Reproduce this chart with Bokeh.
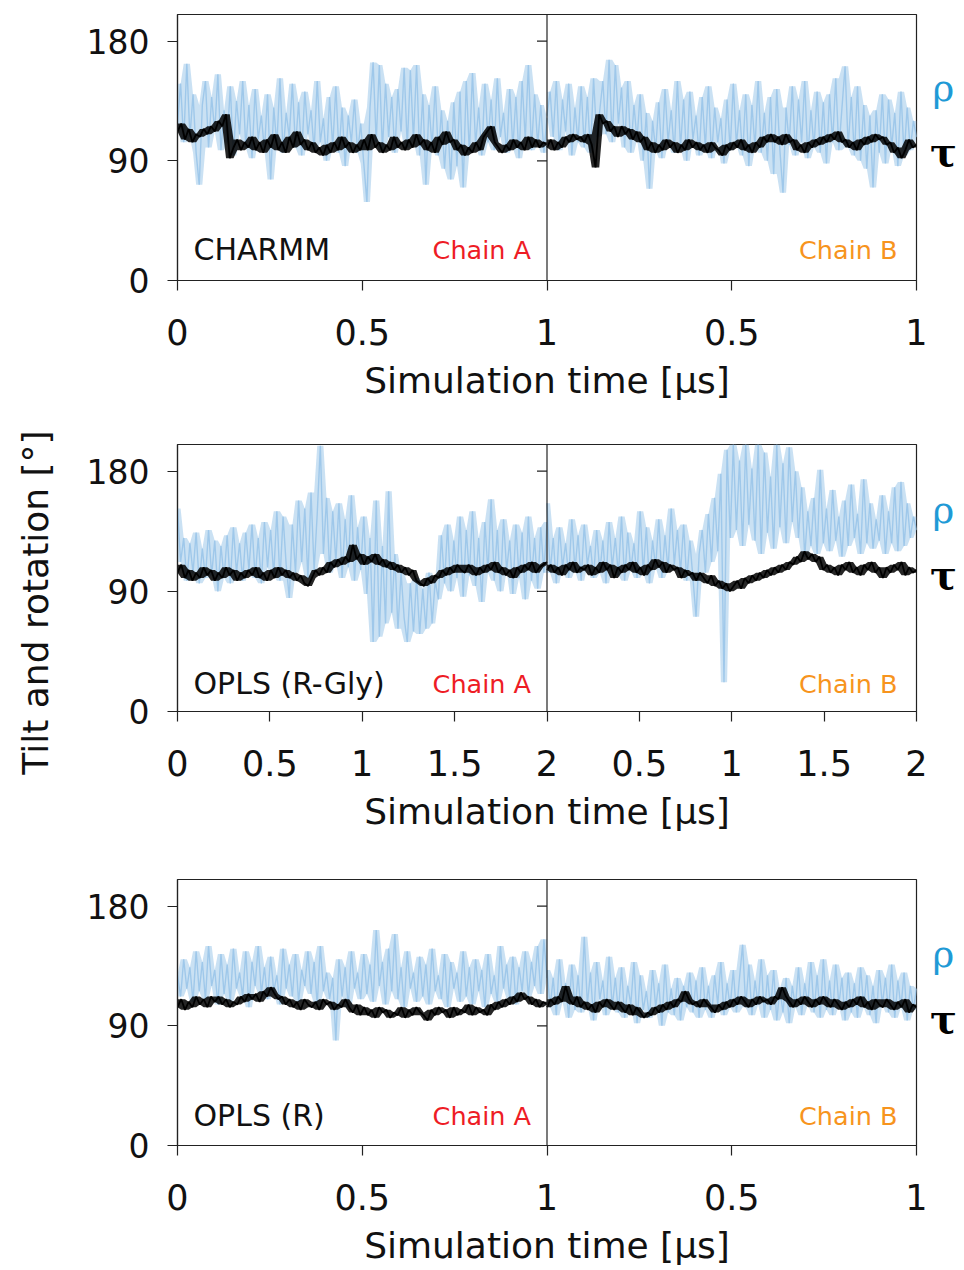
import numpy as np
from bokeh.plotting import figure
from bokeh.layouts import column, row
from bokeh.models import Range1d, FixedTicker, Span, Label
from bokeh.embed import file_html
from bokeh.resources import INLINE

# ---------------- data (degrees) ----------------
# Panel 1: CHARMM, 1 us per chain
charmm_rho_A = [118, 148, 104, 163, 108, 140, 96, 72, 132, 150,
                100, 138, 112, 155, 98, 128, 104, 146, 94, 135,
                110, 150, 100, 132, 92, 144, 106, 124, 98, 140,
                76, 130, 102, 152, 96, 126, 108, 148, 100, 134,
                94, 142, 110, 128, 98, 150, 104, 122, 90, 138,
                100, 146, 96, 130, 86, 124, 104, 136, 96, 118,
                88, 59, 130, 164, 104, 162, 98, 148, 108, 138,
                96, 144, 112, 160, 100, 158, 106, 162, 94, 140,
                72, 132, 100, 146, 94, 128, 84, 120, 76, 134,
                86, 142, 70, 150, 96, 156, 102, 130, 94, 148,
                104, 136, 98, 152, 108, 126, 96, 144, 100, 138,
                92, 150, 106, 162, 98, 140, 102, 132, 96, 122]
charmm_tau_A = [112, 118, 106, 114, 104, 110, 108, 114, 110, 116,
                112, 120, 116, 125, 92, 100, 106, 98, 104, 100,
                108, 98, 104, 96, 106, 100, 110, 98, 104, 96,
                108, 100, 112, 102, 106, 98, 104, 96, 100, 94,
                102, 96, 104, 98, 108, 100, 104, 96, 102, 98,
                106, 98, 110, 100, 104, 96, 102, 98, 108, 100,
                104, 98, 106, 100, 110, 102, 106, 98, 104, 96,
                108, 102, 112, 104, 106, 98, 102, 94, 100, 96,
                104, 98, 108, 112, 116, 104, 100, 96, 102, 98,
                106, 100, 104, 98, 108, 100, 106, 100, 104, 102]
charmm_rho_B = [124, 142, 108, 150, 98, 136, 112, 148, 94, 130,
                104, 146, 100, 138, 96, 152, 108, 128, 150, 110,
                166, 104, 162, 118, 145, 100, 150, 96, 132, 106,
                140, 90, 126, 69, 120, 98, 134, 92, 144, 104,
                128, 96, 150, 100, 136, 90, 142, 106, 124, 94,
                138, 100, 146, 92, 130, 104, 122, 88, 136, 98,
                148, 102, 128, 94, 140, 86, 132, 100, 150, 96,
                126, 90, 138, 80, 144, 98, 66, 130, 102, 146,
                94, 136, 104, 150, 92, 128, 100, 142, 96, 134,
                88, 140, 104, 152, 98, 130, 161, 100, 138, 94,
                146, 90, 132, 84, 124, 70, 128, 96, 140, 88,
                136, 100, 126, 86, 142, 94, 130, 98, 120, 108]
charmm_tau_B = [100, 106, 98, 104, 100, 108, 104, 110, 106, 108,
                104, 110, 102, 85, 125, 118, 120, 112, 116, 108,
                116, 110, 114, 106, 112, 104, 108, 98, 104, 96,
                102, 98, 106, 100, 104, 96, 102, 98, 106, 100,
                104, 98, 102, 96, 104, 100, 98, 94, 102, 98,
                104, 100, 106, 98, 102, 96, 104, 100, 108, 104,
                110, 104, 108, 102, 110, 104, 106, 98, 102, 96,
                104, 100, 106, 102, 108, 104, 110, 106, 112, 104,
                106, 100, 104, 98, 106, 102, 108, 104, 110, 106,
                108, 102, 104, 96, 100, 92, 98, 106, 100, 102]

# Panel 2: OPLS (R-Gly), 2 us per chain
rgly_rho_A = [152, 112, 130, 98, 126, 104, 134, 96, 122, 100,
              136, 102, 128, 90, 124, 100, 132, 96, 138, 104,
              126, 98, 134, 106, 140, 100, 130, 96, 142, 108,
              136, 102, 150, 98, 146, 110, 85, 140, 104, 158,
              112, 152, 100, 164, 106, 148, 199, 118, 160, 104,
              150, 112, 156, 100, 144, 108, 162, 98, 138, 106,
              146, 88, 130, 52, 158, 56, 124, 66, 165, 74,
              118, 62, 104, 70, 52, 96, 60, 100, 58, 92,
              62, 104, 66, 98, 84, 132, 96, 140, 90, 128,
              100, 146, 86, 136, 102, 150, 94, 130, 82, 142,
              104, 159, 98, 136, 90, 144, 106, 128, 88, 140,
              100, 134, 84, 146, 98, 130, 92, 138, 104, 142]
rgly_tau_A = [104, 110, 100, 106, 98, 104, 100, 108, 102, 106,
              98, 104, 100, 108, 102, 106, 98, 104, 100, 106,
              102, 108, 100, 104, 98, 106, 100, 108, 102, 106,
              100, 104, 98, 102, 96, 94, 100, 106, 102, 108,
              104, 112, 108, 114, 110, 116, 112, 125, 114, 118,
              110, 116, 112, 118, 110, 114, 108, 112, 106, 110,
              104, 108, 102, 106, 98, 96, 94, 100, 96, 102,
              100, 106, 102, 108, 104, 110, 106, 104, 110, 106,
              102, 108, 104, 110, 106, 112, 104, 108, 102, 106,
              100, 108, 104, 110, 106, 112, 104, 108, 110, 112]
rgly_rho_B = [156, 104, 130, 96, 138, 108, 126, 100, 144, 106,
              132, 98, 140, 110, 124, 100, 136, 104, 128, 96,
              142, 108, 130, 102, 146, 98, 134, 106, 126, 100,
              150, 104, 138, 96, 128, 108, 144, 100, 132, 106,
              152, 110, 136, 104, 140, 98, 128, 100, 71, 118,
              136, 104, 148, 112, 160, 120, 178, 22, 196, 130,
              200, 136, 188, 124, 200, 140, 182, 128, 200, 118,
              194, 134, 176, 122, 200, 138, 186, 126, 198, 142,
              180, 130, 168, 116, 150, 124, 160, 118, 181, 126,
              152, 120, 166, 128, 146, 116, 158, 124, 170, 130,
              148, 118, 174, 126, 156, 122, 144, 128, 162, 118,
              150, 126, 168, 120, 172, 124, 156, 130, 146, 136]
rgly_tau_B = [106, 110, 104, 108, 102, 110, 106, 112, 104, 108,
              106, 110, 102, 108, 104, 112, 106, 110, 100, 108,
              104, 110, 106, 112, 104, 108, 102, 110, 106, 114,
              108, 112, 104, 110, 106, 108, 100, 106, 102, 104,
              98, 104, 100, 96, 102, 94, 98, 92, 96, 90,
              94, 98, 92, 100, 96, 102, 98, 104, 100, 106,
              102, 108, 104, 110, 106, 112, 110, 116, 112, 120,
              114, 118, 112, 116, 106, 110, 104, 108, 102, 110,
              106, 112, 104, 108, 102, 110, 106, 112, 104, 108,
              100, 108, 104, 110, 106, 112, 102, 108, 104, 106]

# Panel 3: OPLS (R), 1 us per chain
r_rho_A = [128, 112, 140, 118, 134, 108, 146, 116, 138, 110,
           150, 120, 132, 106, 144, 114, 136, 108, 148, 118,
           130, 112, 146, 104, 138, 120, 150, 114, 134, 110,
           142, 116, 128, 106, 148, 118, 136, 112, 144, 108,
           132, 120, 146, 114, 138, 106, 150, 116, 130, 110,
           126, 79, 140, 112, 134, 104, 146, 118, 130, 110,
           144, 114, 136, 108, 162, 120, 138, 106, 148, 116,
           159, 110, 134, 104, 146, 118, 130, 108, 142, 112,
           136, 106, 148, 116, 128, 110, 144, 104, 138, 118,
           130, 108, 146, 112, 134, 106, 140, 116, 132, 104,
           144, 114, 128, 108, 150, 118, 136, 110, 142, 106,
           134, 116, 146, 112, 138, 120, 150, 114, 155, 126]
r_tau_A = [104, 110, 102, 108, 104, 112, 106, 110, 104, 112,
           108, 112, 106, 110, 104, 108, 106, 112, 108, 114,
           110, 114, 108, 116, 112, 119, 114, 110, 112, 106,
           110, 104, 108, 102, 110, 106, 104, 108, 102, 110,
           106, 108, 102, 106, 104, 110, 104, 100, 106, 98,
           104, 98, 102, 96, 104, 100, 102, 96, 100, 98,
           104, 96, 102, 98, 104, 100, 98, 94, 102, 98,
           104, 100, 102, 96, 104, 98, 102, 100, 106, 98,
           104, 100, 102, 98, 106, 102, 108, 104, 110, 106,
           112, 108, 115, 110, 112, 106, 110, 104, 108, 106]
r_rho_B = [132, 104, 126, 98, 140, 108, 122, 96, 136, 102,
           128, 100, 157, 106, 130, 94, 138, 110, 124, 98,
           142, 104, 126, 100, 134, 96, 120, 106, 138, 92,
           128, 102, 116, 96, 132, 104, 122, 90, 136, 100,
           118, 98, 126, 94, 120, 104, 130, 100, 124, 96,
           134, 102, 120, 96, 128, 106, 138, 98, 122, 104,
           132, 100, 126, 151, 104, 136, 98, 124, 106, 140,
           96, 128, 102, 132, 94, 118, 100, 126, 92, 120,
           104, 134, 98, 122, 106, 138, 100, 128, 96, 140,
           102, 124, 98, 136, 106, 126, 94, 130, 100, 122,
           96, 134, 104, 128, 98, 120, 92, 132, 106, 126,
           100, 136, 96, 124, 104, 130, 94, 120, 102, 118]
r_tau_B = [104, 110, 106, 112, 108, 120, 110, 106, 112, 104,
           108, 102, 106, 100, 108, 104, 110, 106, 102, 108,
           104, 100, 106, 98, 104, 100, 96, 100, 98, 104,
           100, 106, 102, 108, 104, 110, 108, 116, 110, 106,
           108, 104, 110, 106, 104, 100, 106, 102, 108, 104,
           110, 106, 112, 108, 104, 110, 106, 112, 108, 110,
           106, 112, 110, 119, 112, 108, 104, 110, 106, 112,
           108, 104, 110, 106, 112, 108, 104, 110, 106, 102,
           108, 104, 110, 106, 112, 104, 108, 102, 110, 106,
           104, 110, 106, 102, 108, 104, 110, 100, 106, 104]

y_ticks = [0, 90, 180]
y_max = 200
panel_names = ["CHARMM", "OPLS (R-Gly)", "OPLS (R)"]
chain_names = ["Chain A", "Chain B"]
chain_lengths = [1.0, 2.0, 1.0]          # microseconds per chain
x_tick_step = 0.5
y_label = "Tilt and rotation [°]"
x_label = "Simulation time [μs]"

# ---------------- styling ----------------
RHO_LINE = "#9fc8ea"
RHO_TEXT = "#1f9ad6"
TAU_LINE = "#000000"
CHAIN_COLORS = ["#ee1c25", "#f7941d"]
EDGE = "#222222"
FONT = "DejaVu Sans"
SERIF = "DejaVu Serif"

W, H = 964, 1270
TILT_W = 60                    # strip holding the shared y label
SIDE_W = 34                    # strip holding ρ / τ
LEFT = 177 - TILT_W
RIGHT = 14
BOX_W = 739
MAIN_W = LEFT + BOX_W + RIGHT
heights = [430, 435, 405]
tops = [14, 14, 14]
bottoms = [150, 154, 125]

panel_data = [
    (charmm_rho_A, charmm_tau_A, charmm_rho_B, charmm_tau_B),
    (rgly_rho_A, rgly_tau_A, rgly_rho_B, rgly_tau_B),
    (r_rho_A, r_tau_A, r_rho_B, r_tau_B),
]
label_y = [31, 28, 30]
rho_y = [192, 201, 191]        # from the (aligned) frame bottom
tau_y = [129, 137, 127]


def fmt(v):
    s = ("%.1f" % v)
    return s[:-2] if s.endswith(".0") else s


def envelope(vals):
    a = np.asarray(vals, dtype=float)
    pad = np.pad(a, 1, mode="edge")
    stack = np.vstack([pad[:-2], pad[1:-1], pad[2:]])
    return stack.min(axis=0), stack.max(axis=0)


def blank(width, height):
    f = figure(width=width, height=height, output_backend="svg", toolbar_location=None,
               x_range=Range1d(0, 1), y_range=Range1d(0, 1),
               x_axis_location=None, y_axis_location=None, title=None)
    f.min_border_left = f.min_border_right = f.min_border_top = f.min_border_bottom = 0
    f.outline_line_color = None
    f.grid.visible = False
    f.background_fill_color = "white"
    f.border_fill_color = "white"
    return f


rows = []
for k in range(3):
    L = chain_lengths[k]
    xmax_box = 2 * L
    rhoA, tauA, rhoB, tauB = panel_data[k]
    p = figure(width=MAIN_W, height=heights[k], output_backend="svg",
               toolbar_location=None, title=None,
               x_range=Range1d(0, xmax_box), y_range=Range1d(0, y_max))
    p.min_border_left = LEFT
    p.min_border_right = RIGHT
    p.min_border_top = tops[k]
    p.min_border_bottom = bottoms[k]
    p.xgrid.visible = False
    p.ygrid.visible = False
    p.outline_line_color = EDGE
    p.outline_line_width = 1.2
    p.background_fill_color = "white"
    p.border_fill_color = "white"

    # series: light blue rho, black tau (band of local spread + line)
    for (rho, off) in ((rhoA, 0.0), (rhoB, L)):
        xr = off + np.linspace(0, L, len(rho))
        rlo, rhi = envelope(rho)
        p.varea(x=xr, y1=rlo, y2=rhi, fill_color=RHO_LINE, fill_alpha=0.55)
        p.line(xr, rho, line_color=RHO_LINE, line_width=1.4)
    for (tau, off) in ((tauA, 0.0), (tauB, L)):
        xt = off + np.linspace(0, L, len(tau))
        tlo, thi = envelope(tau)
        p.varea(x=xt, y1=tlo, y2=thi, fill_color=TAU_LINE, fill_alpha=0.85)
        p.line(xt, tau, line_color=TAU_LINE, line_width=1.8)

    # divider between chains, with its small y ticks
    p.add_layout(Span(location=L, dimension="height", line_color=EDGE, line_width=1.2))
    tick_len = 10 * xmax_box / BOX_W
    p.segment(x0=[L - tick_len] * 2, x1=[L] * 2, y0=y_ticks[1:], y1=y_ticks[1:],
              line_color=EDGE, line_width=1.2)

    # axes
    xt_vals = list(np.arange(0, xmax_box + 1e-9, x_tick_step))
    overrides = {}
    for v in xt_vals:
        lab = v if v <= L else v - L
        overrides[float(v)] = fmt(lab)
    p.xaxis.ticker = FixedTicker(ticks=[float(v) for v in xt_vals])
    p.xaxis.major_label_overrides = overrides
    p.yaxis.ticker = FixedTicker(ticks=y_ticks)
    p.xaxis.minor_tick_line_color = None
    p.yaxis.minor_tick_line_color = None
    for ax in (p.xaxis, p.yaxis):
        ax.major_tick_in = 0
        ax.major_tick_out = 10
        ax.major_tick_line_color = EDGE
        ax.major_tick_line_width = 1.2
        ax.axis_line_color = EDGE
        ax.axis_line_width = 1.2
        ax.major_label_text_font = FONT
        ax.major_label_text_color = "#111111"
    p.xaxis.major_label_text_font_size = "35px"
    p.yaxis.major_label_text_font_size = "33px"
    p.xaxis.major_label_standoff = 28
    p.yaxis.major_label_standoff = 18
    p.xaxis.axis_label = x_label
    p.xaxis.axis_label_text_font = FONT
    p.xaxis.axis_label_text_font_size = "36px"
    p.xaxis.axis_label_text_font_style = "normal"
    p.xaxis.axis_label_text_color = "#111111"
    p.xaxis.axis_label_standoff = 12

    # in-panel texts
    p.add_layout(Label(x=16, y=label_y[k], x_units="screen", y_units="screen",
                       text=panel_names[k], text_font=FONT, text_font_size="30px",
                       text_color="#111111", text_baseline="middle"))
    half = BOX_W / 2
    p.add_layout(Label(x=half - 16, y=label_y[k], x_units="screen", y_units="screen",
                       text=chain_names[0], text_font=FONT, text_font_size="25.5px",
                       text_color=CHAIN_COLORS[0], text_baseline="middle", text_align="right"))
    p.add_layout(Label(x=BOX_W - 19, y=label_y[k], x_units="screen", y_units="screen",
                       text=chain_names[1], text_font=FONT, text_font_size="25.5px",
                       text_color=CHAIN_COLORS[1], text_baseline="middle", text_align="right"))

    # side strip with ρ and τ (its frame lines up with the panel frame)
    s = blank(SIDE_W, heights[k])
    s.add_layout(Label(x=13, y=rho_y[k], x_units="screen", y_units="screen",
                       text="ρ", text_font=SERIF, text_font_size="37px",
                       text_color=RHO_TEXT, text_baseline="middle", text_align="center"))
    s.add_layout(Label(x=13, y=tau_y[k], x_units="screen", y_units="screen",
                       text="τ", text_font=SERIF, text_font_size="40px",
                       text_color="#000000", text_baseline="middle", text_align="center",
                       text_font_style="bold"))
    rows.append(row(p, s, spacing=0))

# strip with the shared y label
t = blank(TILT_W, H)
t.add_layout(Label(x=35, y=H - 602, x_units="screen", y_units="screen",
                   text=y_label, text_font=FONT, text_font_size="36px",
                   text_color="#111111", angle=np.pi / 2,
                   text_align="center", text_baseline="middle"))

layout = row(t, column(*rows, spacing=0), spacing=0)
open("out.html", "w").write(file_html(layout, INLINE))
